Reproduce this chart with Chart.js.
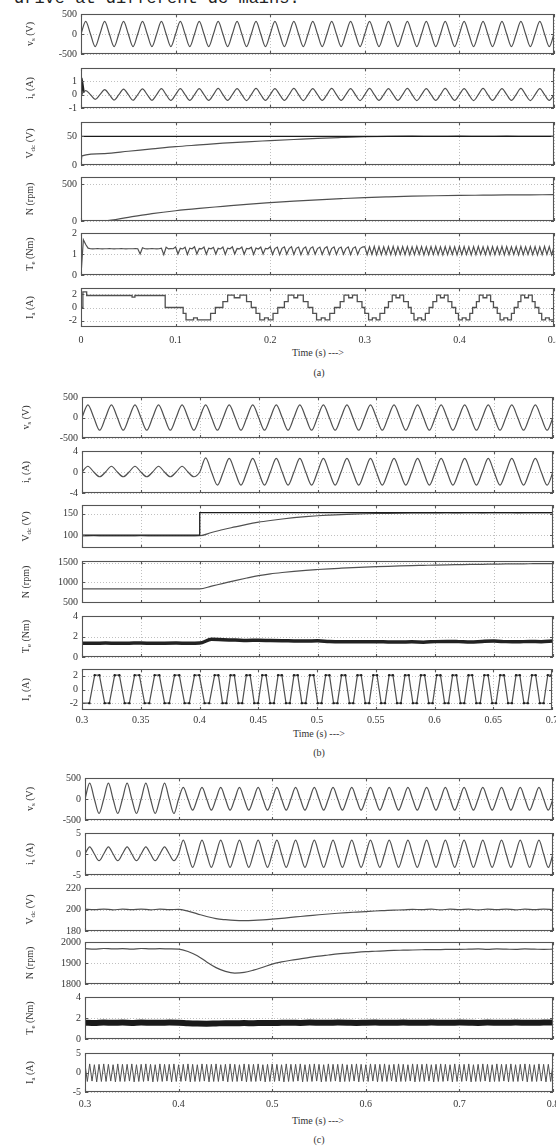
<!DOCTYPE html>
<html>
<head>
<meta charset="utf-8">
<script src="https://cdn.jsdelivr.net/npm/chart.js@4.4.1/dist/chart.umd.min.js"></script>
<style>
  body { margin: 0; background: #fff; }
  #page { position: relative; width: 556px; height: 1146px; overflow: hidden; font-family: "Liberation Serif", serif; color: #333; }
  #page canvas { position: absolute; left: 0; }
  .note { position: absolute; white-space: nowrap; }
  .mid { font-size: 10px; transform: translateX(-50%); }
</style>
</head>
<body>
<div id="page">
  <div class="note" style="left:14px; top:-10px; font-family:'Liberation Mono', monospace; font-size:17px; line-height:17px; color:#222;">drive at different dc mains.</div>
  <div class="note mid" style="left:318px; top:347px;">Time (s) ---&gt;</div>
  <div class="note mid" style="left:319px; top:367px;">(a)</div>
  <div class="note mid" style="left:319px; top:728px;">Time (s) ---&gt;</div>
  <div class="note mid" style="left:319px; top:747px;">(b)</div>
  <div class="note mid" style="left:318px; top:1115px;">Time (s) ---&gt;</div>
  <div class="note mid" style="left:319px; top:1134px;">(c)</div>
</div>
<script>
// sinusoidal traces are sampled every quarter period (50 Hz supply)
const waveStep = 0.005;

// ---------- (a) starting from rest ----------
const aXTicks = [0, 0.1, 0.2, 0.3, 0.4, 0.5];
const aVs = [
  0, 315, 0, -315, 0, 315, 0, -315, 0, 315, 0, -315, 0, 315, 0, -315, 0, 315, 0, -315,
  0, 315, 0, -315, 0, 315, 0, -315, 0, 315, 0, -315, 0, 315, 0, -315, 0, 315, 0, -315,
  0, 315, 0, -315, 0, 315, 0, -315, 0, 315, 0, -315, 0, 315, 0, -315, 0, 315, 0, -315,
  0, 315, 0, -315, 0, 315, 0, -315, 0, 315, 0, -315, 0, 315, 0, -315, 0, 315, 0, -315,
  0, 315, 0, -315, 0, 315, 0, -315, 0, 315, 0, -315, 0, 315, 0, -315, 0, 315, 0, -315,
  0
];
const aIs = [
  0, 0.3, 0, -0.36, 0, 0.38, 0, -0.4, 0, 0.42, 0, -0.42, 0, 0.44, 0, -0.42, 0, 0.45, 0, -0.43,
  0, 0.46, 0, -0.43, 0, 0.46, 0, -0.43, 0, 0.47, 0, -0.43, 0, 0.46, 0, -0.44, 0, 0.47, 0, -0.43,
  0, 0.46, 0, -0.43, 0, 0.47, 0, -0.44, 0, 0.46, 0, -0.43, 0, 0.47, 0, -0.43, 0, 0.46, 0, -0.44,
  0, 0.47, 0, -0.43, 0, 0.46, 0, -0.43, 0, 0.47, 0, -0.44, 0, 0.46, 0, -0.43, 0, 0.47, 0, -0.43,
  0, 0.46, 0, -0.44, 0, 0.47, 0, -0.43, 0, 0.46, 0, -0.43, 0, 0.47, 0, -0.44, 0, 0.46, 0, -0.43,
  0
];
const aIsKickTimes = [0, 0.0005, 0.0015, 0.003];
const aIsKick = [0, 1.25, 0.9, 0.15];
const aVdcTimes = [0, 0.001, 0.025, 0.05, 0.075, 0.1, 0.125, 0.15, 0.175, 0.2, 0.225,
  0.25, 0.275, 0.3, 0.325, 0.35, 0.375, 0.4, 0.425, 0.45, 0.475, 0.5];
const aVdc = [0, 16, 20, 24, 28, 32, 35, 38, 40.5, 42.5, 44.5,
  46.5, 48, 49.3, 50, 50.2, 50, 50.3, 50, 50.2, 50, 50.1];
const aVdcRefTimes = [0, 0.5];
const aVdcRef = [50, 50];
const aSpeedStep = 0.025;
const aSpeed = [0, 2, 50, 100, 140, 172, 200, 228, 250, 270, 288, 305, 320, 330, 338, 344, 349, 352, 355, 357, 359];
const aTorqueStep = 0.0025;
const aTorque = [
  0, 1.68, 1.45, 1.28,
  1.25, 1.24, 1.25, 1.26, 1.25, 1.24, 1.25, 1.25, 1.26, 1.25, 1.24, 1.25, 1.25, 1.26, 1.25, 1.24, 1.25, 1.25, 1.25, 1.26,
  1.25, 1.0, 1.3, 1.25, 1.24, 1.25, 1.26, 1.25, 1.24, 1.25, 1.28, 0.97, 1.32, 1.24, 1.26, 1.25,
  1.33, 1.0, 1.27, 1.24, 1.32, 0.98, 1.28, 1.25, 1.34, 1.0, 1.26, 1.24, 1.33, 0.99, 1.28, 1.25, 1.32, 1.0, 1.27, 1.24,
  1.33, 0.98, 1.28, 1.25, 1.34, 1.0, 1.26, 1.24, 1.33, 0.99, 1.27, 1.25, 1.32, 0.98, 1.28, 1.24, 1.33, 1.0, 1.27, 1.25,
  1.34, 0.98, 1.26, 1.33, 0.97, 1.27, 1.34, 0.99, 1.26, 1.35, 0.98, 1.27, 1.33, 0.97, 1.26, 1.34, 0.98, 1.27, 1.34, 0.99,
  1.26, 1.33, 0.98, 1.27, 1.35, 0.97, 1.26, 1.34, 0.98, 1.27, 1.33, 0.99, 1.26, 1.34, 0.97, 1.27, 1.34, 0.98, 1.26, 1.33,
  1.35, 0.97, 1.34, 0.98, 1.36, 0.96, 1.35, 0.97, 1.34, 0.98, 1.35, 0.97, 1.36, 0.96, 1.34, 0.98, 1.35, 0.97, 1.35, 0.96,
  1.34, 0.97, 1.36, 0.98, 1.35, 0.96, 1.34, 0.97, 1.35, 0.98, 1.36, 0.97, 1.34, 0.96, 1.35, 0.97, 1.35, 0.98, 1.34, 0.96,
  1.36, 0.97, 1.35, 0.98, 1.34, 0.96, 1.35, 0.97, 1.36, 0.98, 1.34, 0.97, 1.35, 0.96, 1.35, 0.97, 1.34, 0.98, 1.36, 0.96,
  1.35, 0.97, 1.34, 0.98, 1.35, 0.96, 1.36, 0.97, 1.34, 0.98, 1.35, 0.97, 1.35, 0.96, 1.34, 0.97, 1.36, 0.98, 1.35, 0.96,
  1.35
];
// stator current: level held until the next switching instant
const aIaTimes = [
  0, 0.002, 0.006, 0.054, 0.057, 0.089, 0.108, 0.111, 0.119, 0.123, 0.137, 0.142,
  0.150, 0.155, 0.162, 0.168, 0.175, 0.180,
  0.185, 0.189, 0.194, 0.198, 0.203, 0.208,
  0.215, 0.219, 0.225, 0.229, 0.235, 0.240,
  0.245, 0.249, 0.254, 0.258, 0.263, 0.268,
  0.274, 0.278, 0.283, 0.287, 0.292, 0.297,
  0.300, 0.304, 0.308, 0.312, 0.316, 0.321,
  0.325, 0.329, 0.333, 0.337, 0.341, 0.346,
  0.349, 0.352, 0.356, 0.360, 0.364, 0.368,
  0.372, 0.376, 0.380, 0.384, 0.388, 0.392,
  0.396, 0.399, 0.403, 0.407, 0.411, 0.414,
  0.418, 0.421, 0.425, 0.429, 0.433, 0.436,
  0.440, 0.443, 0.447, 0.451, 0.455, 0.458,
  0.462, 0.465, 0.469, 0.473, 0.477, 0.480,
  0.484, 0.487, 0.491, 0.495, 0.5
];
const aIaLevels = [
  0, 2.4, 1.85, 1.6, 1.85, 0, -0.9, -1.9, -1.6, -1.9, -0.9, 0,
  0.9, 1.9, 1.5, 1.9, 0.9, 0,
  -0.9, -1.9, -1.6, -1.9, -0.9, 0,
  0.9, 1.9, 1.5, 1.9, 0.9, 0,
  -0.9, -1.9, -1.6, -1.9, -0.9, 0,
  0.9, 1.9, 1.5, 1.9, 0.9, 0,
  -0.9, -1.9, -1.6, -1.9, -0.9, 0,
  0.9, 1.9, 1.5, 1.9, 0.9, 0,
  -0.9, -1.9, -1.6, -1.9, -0.9, 0,
  0.9, 1.9, 1.5, 1.9, 0.9, 0,
  -0.9, -1.9, -1.6, -1.9, -0.9, 0,
  0.9, 1.9, 1.5, 1.9, 0.9, 0,
  -0.9, -1.9, -1.6, -1.9, -0.9, 0,
  0.9, 1.9, 1.5, 1.9, 0.9, 0,
  -0.9, -1.9, -1.6, -1.9, -1.9
];

// ---------- (b) step in dc-link voltage reference ----------
const bXTicks = [0.3, 0.35, 0.4, 0.45, 0.5, 0.55, 0.6, 0.65, 0.7];
const bVs = [
  0, 310, 0, -310, 0, 310, 0, -310, 0, 310, 0, -310, 0, 310, 0, -310, 0, 310, 0, -310,
  0, 310, 0, -310, 0, 310, 0, -310, 0, 310, 0, -310, 0, 310, 0, -310, 0, 310, 0, -310,
  0, 310, 0, -310, 0, 310, 0, -310, 0, 310, 0, -310, 0, 310, 0, -310, 0, 310, 0, -310,
  0, 310, 0, -310, 0, 310, 0, -310, 0, 310, 0, -310, 0, 310, 0, -310, 0, 310, 0, -310,
  0
];
const bIs = [
  0, 1.1, 0, -0.9, 0, 1.1, 0, -0.9, 0, 1.1, 0, -0.9, 0, 1.1, 0, -0.9, 0, 1.1, 0, -0.9,
  0, 2.7, 0, -2.5, 0, 2.6, 0, -2.5, 0, 2.6, 0, -2.5, 0, 2.6, 0, -2.5, 0, 2.6, 0, -2.5,
  0, 2.6, 0, -2.5, 0, 2.6, 0, -2.5, 0, 2.6, 0, -2.5, 0, 2.6, 0, -2.5, 0, 2.6, 0, -2.5,
  0, 2.6, 0, -2.5, 0, 2.6, 0, -2.5, 0, 2.6, 0, -2.5, 0, 2.6, 0, -2.5, 0, 2.6, 0, -2.5,
  0
];
const slowStep = 0.01;
const bVdc = [
  98, 98.5, 98, 98.3, 98, 98.5, 98.2, 98, 98.4, 98.1, 98.5,
  106, 113, 119, 125, 130, 134, 137.5, 140.5, 143, 145,
  146.5, 147.8, 148.8, 149.6, 150.2, 150.7, 151.1, 151.4, 151.6, 151.8,
  152, 151.8, 152.1, 151.9, 152, 152.1, 151.9, 152, 152.1, 152
];
const bVdcRefTimes = [0.3, 0.4, 0.4, 0.7];
const bVdcRef = [100, 100, 152.5, 152.5];
const bSpeed = [
  835, 836, 834, 835, 836, 835, 834, 835, 836, 835, 835,
  905, 975, 1045, 1110, 1170, 1215, 1250, 1280, 1305, 1325,
  1343, 1358, 1372, 1385, 1396, 1406, 1415, 1423, 1430, 1437,
  1443, 1448, 1453, 1457, 1461, 1465, 1468, 1471, 1474, 1476
];
const bTorque = [
  1.35, 1.33, 1.36, 1.34, 1.35, 1.37, 1.33, 1.35, 1.36, 1.34, 1.36,
  1.72, 1.68, 1.66, 1.62, 1.63, 1.6, 1.58, 1.57, 1.55, 1.58,
  1.52, 1.5, 1.5, 1.48, 1.5, 1.47, 1.46, 1.48, 1.45, 1.5,
  1.52, 1.5, 1.47, 1.52, 1.55, 1.5, 1.48, 1.52, 1.5, 1.55
];
// trapezoidal phase current: plateau corners
const bIaTimes = [
  0.3, 0.3063,
  0.3108, 0.3148, 0.3193, 0.3233, 0.3278, 0.3318, 0.3363, 0.3403,
  0.3448, 0.3488, 0.3533, 0.3573, 0.3618, 0.3658, 0.3703, 0.3743,
  0.3788, 0.3828, 0.3873, 0.3913, 0.3958, 0.3998, 0.4043, 0.4083,
  0.4129, 0.4161, 0.4196, 0.4229, 0.4264, 0.4296, 0.4331, 0.4364,
  0.4399, 0.4431, 0.4466, 0.4499, 0.4534, 0.4566, 0.4601, 0.4634,
  0.4669, 0.4701, 0.4736, 0.4769, 0.4804, 0.4836, 0.4871, 0.4904,
  0.4939, 0.4971, 0.5006, 0.5039, 0.5074, 0.5106, 0.5141, 0.5174,
  0.5209, 0.5241, 0.5276, 0.5309, 0.5344, 0.5376, 0.5411, 0.5444,
  0.5479, 0.5511, 0.5546, 0.5579, 0.5614, 0.5646, 0.5681, 0.5714,
  0.5749, 0.5781, 0.5816, 0.5849, 0.5884, 0.5916, 0.5951, 0.5984,
  0.6019, 0.6051, 0.6086, 0.6119, 0.6154, 0.6186, 0.6221, 0.6254,
  0.6289, 0.6321, 0.6356, 0.6389, 0.6424, 0.6456, 0.6491, 0.6524,
  0.6559, 0.6591, 0.6626, 0.6659, 0.6694, 0.6726, 0.6761, 0.6794,
  0.6829, 0.6861, 0.6896, 0.6929, 0.6964, 0.6996, 0.7031, 0.7064
];
const bIa = [
  -2.0, -2.0,
  2.1, 2.1, -2.0, -2.0, 2.1, 2.1, -2.0, -2.0,
  2.1, 2.1, -2.0, -2.0, 2.1, 2.1, -2.0, -2.0,
  2.1, 2.1, -2.0, -2.0, 2.1, 2.1, -2.0, -2.0,
  2.1, 2.1, -2.0, -2.0, 2.1, 2.1, -2.0, -2.0,
  2.1, 2.1, -2.0, -2.0, 2.1, 2.1, -2.0, -2.0,
  2.1, 2.1, -2.0, -2.0, 2.1, 2.1, -2.0, -2.0,
  2.1, 2.1, -2.0, -2.0, 2.1, 2.1, -2.0, -2.0,
  2.1, 2.1, -2.0, -2.0, 2.1, 2.1, -2.0, -2.0,
  2.1, 2.1, -2.0, -2.0, 2.1, 2.1, -2.0, -2.0,
  2.1, 2.1, -2.0, -2.0, 2.1, 2.1, -2.0, -2.0,
  2.1, 2.1, -2.0, -2.0, 2.1, 2.1, -2.0, -2.0,
  2.1, 2.1, -2.0, -2.0, 2.1, 2.1, -2.0, -2.0,
  2.1, 2.1, -2.0, -2.0, 2.1, 2.1, -2.0, -2.0,
  2.1, 2.1, -2.0, -2.0, 2.1, 2.1, -2.0, -2.0
];

// ---------- (c) step in supply voltage ----------
const cXTicks = [0.3, 0.4, 0.5, 0.6, 0.7, 0.8];
const cVs = [
  0, 380, 0, -345, 0, 380, 0, -345, 0, 380, 0, -345, 0, 380, 0, -345, 0, 380, 0, -345,
  0, 275, 0, -265, 0, 275, 0, -265, 0, 275, 0, -265, 0, 275, 0, -265, 0, 275, 0, -265,
  0, 275, 0, -265, 0, 275, 0, -265, 0, 275, 0, -265, 0, 275, 0, -265, 0, 275, 0, -265,
  0, 275, 0, -265, 0, 275, 0, -265, 0, 275, 0, -265, 0, 275, 0, -265, 0, 275, 0, -265,
  0, 275, 0, -265, 0, 275, 0, -265, 0, 275, 0, -265, 0, 275, 0, -265, 0, 275, 0, -265,
  0
];
const cIs = [
  0, 1.7, 0, -1.6, 0, 1.7, 0, -1.6, 0, 1.7, 0, -1.6, 0, 1.7, 0, -1.6, 0, 1.7, 0, -1.6,
  0, 3.3, 0, -3.2, 0, 3.3, 0, -3.2, 0, 3.3, 0, -3.2, 0, 3.3, 0, -3.2, 0, 3.3, 0, -3.2,
  0, 3.3, 0, -3.2, 0, 3.3, 0, -3.2, 0, 3.3, 0, -3.2, 0, 3.3, 0, -3.2, 0, 3.3, 0, -3.2,
  0, 3.3, 0, -3.2, 0, 3.3, 0, -3.2, 0, 3.3, 0, -3.2, 0, 3.3, 0, -3.2, 0, 3.3, 0, -3.2,
  0, 3.3, 0, -3.2, 0, 3.3, 0, -3.2, 0, 3.3, 0, -3.2, 0, 3.3, 0, -3.2, 0, 3.3, 0, -3.2,
  0
];
const cVdc = [
  200.3, 199.8, 200.4, 199.7, 200.3, 199.8, 200.4, 199.7, 200.3, 199.8, 200.2,
  198.5, 196, 193.5, 191.5, 190.5, 189.8, 189.6, 189.8, 190.3, 191,
  191.8, 192.6, 193.5, 194.3, 195.1, 195.8, 196.5, 197.1, 197.6, 198.1,
  198.6, 199, 199.4, 199.7, 200.2, 199.8, 200.3, 199.7, 200.3, 199.8,
  200.3, 199.7, 200.3, 199.8, 200.4, 199.7, 200.3, 199.8, 200.3, 199.9
];
const cSpeed = [
  1968, 1966, 1969, 1967, 1968, 1966, 1969, 1967, 1968, 1967, 1966,
  1955, 1935, 1905, 1878, 1860, 1852, 1855, 1866, 1880, 1895,
  1905, 1913, 1920, 1927, 1933, 1938, 1943, 1947, 1951, 1954,
  1956, 1958, 1960, 1961, 1962, 1963, 1964, 1964, 1965, 1965,
  1966, 1967, 1965, 1967, 1966, 1965, 1967, 1966, 1965, 1966
];
const cTorque = [
  1.55, 1.52, 1.57, 1.54, 1.56, 1.53, 1.57, 1.55, 1.54, 1.56, 1.55,
  1.5, 1.47, 1.46, 1.48, 1.5, 1.49, 1.52, 1.5, 1.53, 1.52,
  1.54, 1.55, 1.53, 1.56, 1.55, 1.54, 1.56, 1.55, 1.53, 1.55,
  1.56, 1.54, 1.55, 1.57, 1.55, 1.54, 1.56, 1.55, 1.54, 1.56,
  1.55, 1.53, 1.56, 1.55, 1.54, 1.56, 1.55, 1.54, 1.56, 1.57
];
const cIaStep = 0.0025;
const cIa = [
  2.1, -2.3, 2.2, -2.2, 2.0, -2.4, 2.1, -2.3, 2.2, -2.3, 2.1, -2.2, 2.0, -2.4, 2.2, -2.3, 2.1, -2.3, 2.1, -2.2,
  2.2, -2.4, 2.0, -2.3, 2.1, -2.3, 2.2, -2.2, 2.1, -2.4, 2.0, -2.3, 2.2, -2.3, 2.1, -2.2, 2.1, -2.4, 2.2, -2.3,
  2.0, -2.3, 2.1, -2.2, 2.2, -2.4, 2.1, -2.3, 2.0, -2.3, 2.2, -2.2, 2.1, -2.4, 2.1, -2.3, 2.2, -2.3, 2.0, -2.2,
  2.1, -2.4, 2.2, -2.3, 2.1, -2.3, 2.0, -2.2, 2.2, -2.4, 2.1, -2.3, 2.1, -2.3, 2.2, -2.2, 2.0, -2.4, 2.1, -2.3,
  2.2, -2.3, 2.1, -2.2, 2.0, -2.4, 2.2, -2.3, 2.1, -2.3, 2.1, -2.2, 2.2, -2.4, 2.0, -2.3, 2.1, -2.3, 2.2, -2.2,
  2.1, -2.4, 2.0, -2.3, 2.2, -2.3, 2.1, -2.2, 2.1, -2.4, 2.2, -2.3, 2.0, -2.3, 2.1, -2.2, 2.2, -2.4, 2.1, -2.3,
  2.0, -2.3, 2.2, -2.2, 2.1, -2.4, 2.1, -2.3, 2.2, -2.3, 2.0, -2.2, 2.1, -2.4, 2.2, -2.3, 2.1, -2.3, 2.0, -2.2,
  2.2, -2.4, 2.1, -2.3, 2.1, -2.3, 2.2, -2.2, 2.0, -2.4, 2.1, -2.3, 2.2, -2.3, 2.1, -2.2, 2.0, -2.4, 2.2, -2.3,
  2.1, -2.3, 2.1, -2.2, 2.2, -2.4, 2.0, -2.3, 2.1, -2.3, 2.2, -2.2, 2.1, -2.4, 2.0, -2.3, 2.2, -2.3, 2.1, -2.2,
  2.1, -2.4, 2.2, -2.3, 2.0, -2.3, 2.1, -2.2, 2.2, -2.4, 2.1, -2.3, 2.0, -2.3, 2.2, -2.2, 2.1, -2.4, 2.1, -2.3,
  2.2
];

// ---------- helpers ----------
function sampled(start, step, values) {
  return values.map((v, i) => ({ x: +(start + i * step).toFixed(5), y: v }));
}
function paired(times, values) {
  return times.map((t, i) => ({ x: t, y: values[i] }));
}
function trace(data, extra) {
  return Object.assign({
    data: data, borderColor: '#505050', borderWidth: 1.2, pointRadius: 0,
    cubicInterpolationMode: 'monotone', fill: false
  }, extra || {});
}

const FONT = '"Liberation Serif", serif';

// frame, MATLAB-style inner ticks, dotted grid and subscripted axis title
const framePlugin = {
  id: 'frame',
  beforeDatasetsDraw(chart) {
    const { ctx, chartArea: a, scales } = chart;
    ctx.save();
    ctx.strokeStyle = '#b0b0b0';
    ctx.lineWidth = 0.8;
    ctx.setLineDash([1, 2]);
    ctx.beginPath();
    scales.x.ticks.forEach(t => {
      const px = Math.round(scales.x.getPixelForValue(t.value)) + 0.5;
      ctx.moveTo(px, a.top); ctx.lineTo(px, a.bottom);
    });
    scales.y.ticks.forEach(t => {
      const py = Math.round(scales.y.getPixelForValue(t.value)) + 0.5;
      ctx.moveTo(a.left, py); ctx.lineTo(a.right, py);
    });
    ctx.stroke();
    ctx.restore();
  },
  afterDraw(chart, args, opts) {
    const { ctx, chartArea: a, scales } = chart;
    ctx.save();
    ctx.strokeStyle = '#555';
    ctx.lineWidth = 1.1;
    ctx.strokeRect(a.left + 0.5, a.top + 0.5, a.right - a.left - 1, a.bottom - a.top - 1);
    ctx.beginPath();
    scales.x.ticks.forEach(t => {
      const px = Math.round(scales.x.getPixelForValue(t.value)) + 0.5;
      ctx.moveTo(px, a.top); ctx.lineTo(px, a.top + 3);
      ctx.moveTo(px, a.bottom); ctx.lineTo(px, a.bottom - 3);
    });
    scales.y.ticks.forEach(t => {
      const py = Math.round(scales.y.getPixelForValue(t.value)) + 0.5;
      ctx.moveTo(a.left, py); ctx.lineTo(a.left + 3, py);
      ctx.moveTo(a.right, py); ctx.lineTo(a.right - 3, py);
    });
    ctx.stroke();

    const [main, sub, unit] = opts.label;
    ctx.translate(opts.titleX, (a.top + a.bottom) / 2);
    ctx.rotate(-Math.PI / 2);
    ctx.fillStyle = '#333';
    ctx.textBaseline = 'middle';
    ctx.font = '10px ' + FONT;
    const w1 = ctx.measureText(main).width;
    const w3 = ctx.measureText(unit).width;
    ctx.font = '7px ' + FONT;
    const w2 = sub ? ctx.measureText(sub).width : 0;
    let x = -(w1 + w2 + w3) / 2;
    ctx.font = '10px ' + FONT;
    ctx.fillText(main, x, 0);
    x += w1;
    if (sub) {
      ctx.font = '7px ' + FONT;
      ctx.fillText(sub, x, 3);
      x += w2;
    }
    ctx.font = '10px ' + FONT;
    ctx.fillText(unit, x, 0);
    ctx.restore();
  }
};

const page = document.getElementById('page');

function panel(p) {
  const bottomExtra = p.showX ? 24 : 8;
  const h = p.bottom - p.top + 8 + bottomExtra;
  const canvas = document.createElement('canvas');
  canvas.width = 556;
  canvas.height = h;
  canvas.style.top = (p.top - 8) + 'px';
  page.appendChild(canvas);

  new Chart(canvas.getContext('2d'), {
    type: 'line',
    data: { datasets: p.datasets },
    options: {
      responsive: false,
      animation: false,
      devicePixelRatio: 1,
      events: [],
      layout: { padding: { top: 8, left: 0, right: 556 - p.right, bottom: p.showX ? 0 : 8 } },
      plugins: {
        legend: { display: false },
        tooltip: { enabled: false },
        frame: { label: p.label, titleX: p.titleX }
      },
      scales: {
        x: {
          type: 'linear',
          min: p.xTicks[0],
          max: p.xTicks[p.xTicks.length - 1],
          grid: { display: false, drawTicks: false },
          border: { display: false },
          ticks: {
            display: !!p.showX,
            padding: p.xPad || 6,
            maxRotation: 0,
            autoSkip: false,
            color: '#333',
            font: { family: FONT, size: 10 },
            callback: v => String(Math.round(v * 100) / 100)
          },
          afterBuildTicks: s => { s.ticks = p.xTicks.map(v => ({ value: v })); },
          afterFit: s => {
            s.height = p.showX ? 24 : 0;
            s.paddingLeft = 0; s.paddingRight = 0;
          }
        },
        y: {
          min: p.yMin,
          max: p.yMax,
          grid: { display: false, drawTicks: false },
          border: { display: false },
          ticks: {
            padding: 4,
            color: '#333',
            font: { family: FONT, size: 10 },
            callback: v => String(v)
          },
          afterBuildTicks: s => { s.ticks = p.yTicks.map(v => ({ value: v })); },
          afterFit: s => {
            s.width = p.left;
            s.paddingTop = 0; s.paddingBottom = 0;
          }
        }
      }
    },
    plugins: [framePlugin]
  });
}

// ---------- (a) ----------
const aBox = { left: 81, right: 554, xTicks: aXTicks, titleX: 30, xPad: 7 };
panel(Object.assign({}, aBox, { top: 14, bottom: 54, yMin: -500, yMax: 500, yTicks: [-500, 0, 500],
  label: ['v', 's', ' (V)'], datasets: [trace(sampled(0, waveStep, aVs))] }));
panel(Object.assign({}, aBox, { top: 68, bottom: 108, yMin: -1, yMax: 2, yTicks: [-1, 0, 1],
  label: ['i', 's', ' (A)'], datasets: [trace(sampled(0, waveStep, aIs)),
    trace(paired(aIsKickTimes, aIsKick), { cubicInterpolationMode: 'default', borderColor: '#222', borderWidth: 2 })] }));
panel(Object.assign({}, aBox, { top: 122, bottom: 165, yMin: 0, yMax: 75, yTicks: [0, 50],
  label: ['V', 'dc', ' (V)'], datasets: [trace(paired(aVdcRefTimes, aVdcRef), { borderColor: '#1a1a1a', borderWidth: 1.3 }),
    trace(paired(aVdcTimes, aVdc))] }));
panel(Object.assign({}, aBox, { top: 177, bottom: 221, yMin: 0, yMax: 600, yTicks: [0, 500],
  label: ['N (rpm)', '', ''], datasets: [trace(sampled(0, aSpeedStep, aSpeed))] }));
panel(Object.assign({}, aBox, { top: 233, bottom: 275, yMin: 0, yMax: 2, yTicks: [0, 1, 2],
  label: ['T', 'e', ' (Nm)'], datasets: [trace(sampled(0, aTorqueStep, aTorque), { cubicInterpolationMode: 'default' })] }));
panel(Object.assign({}, aBox, { top: 288, bottom: 327, yMin: -3, yMax: 3, yTicks: [-2, 0, 2], showX: true,
  label: ['I', 'a', ' (A)'], datasets: [trace(paired(aIaTimes, aIaLevels), { stepped: true, borderWidth: 1.3 })] }));

// ---------- (b) ----------
const bBox = { left: 82, right: 553, xTicks: bXTicks, titleX: 26, xPad: 4 };
panel(Object.assign({}, bBox, { top: 397, bottom: 438, yMin: -500, yMax: 500, yTicks: [-500, 0, 500],
  label: ['v', 's', ' (V)'], datasets: [trace(sampled(0.3, waveStep, bVs))] }));
panel(Object.assign({}, bBox, { top: 451, bottom: 493, yMin: -4, yMax: 4, yTicks: [-4, -2, 0, 2, 4],
  label: ['i', 's', ' (A)'], datasets: [trace(sampled(0.3, waveStep, bIs))] }));
panel(Object.assign({}, bBox, { top: 505, bottom: 548, yMin: 70, yMax: 170, yTicks: [100, 150],
  label: ['V', 'dc', ' (V)'], datasets: [trace(paired(bVdcRefTimes, bVdcRef), { cubicInterpolationMode: 'default', borderColor: '#1a1a1a', borderWidth: 1.3 }),
    trace(sampled(0.3, slowStep, bVdc))] }));
panel(Object.assign({}, bBox, { top: 561, bottom: 603, yMin: 480, yMax: 1540, yTicks: [500, 1000, 1500],
  label: ['N (rpm)', '', ''], datasets: [trace(sampled(0.3, slowStep, bSpeed))] }));
panel(Object.assign({}, bBox, { top: 616, bottom: 657, yMin: 0, yMax: 4, yTicks: [0, 2, 4],
  label: ['T', 'e', ' (Nm)'], datasets: [trace(sampled(0.3, slowStep, bTorque), { borderColor: '#222', borderWidth: 3.5 })] }));
panel(Object.assign({}, bBox, { top: 669, bottom: 710, yMin: -3, yMax: 3, yTicks: [-2, 0, 2], showX: true,
  label: ['I', 'a', ' (A)'], datasets: [trace(paired(bIaTimes, bIa), { cubicInterpolationMode: 'default', pointRadius: 1.2, pointBackgroundColor: '#222', pointBorderWidth: 0 })] }));

// ---------- (c) ----------
const cBox = { left: 85, right: 553, xTicks: cXTicks, titleX: 30, xPad: 6 };
panel(Object.assign({}, cBox, { top: 778, bottom: 820, yMin: -500, yMax: 500, yTicks: [-500, 0, 500],
  label: ['v', 's', ' (V)'], datasets: [trace(sampled(0.3, waveStep, cVs))] }));
panel(Object.assign({}, cBox, { top: 833, bottom: 875, yMin: -5, yMax: 5, yTicks: [-5, 0, 5],
  label: ['i', 's', ' (A)'], datasets: [trace(sampled(0.3, waveStep, cIs))] }));
panel(Object.assign({}, cBox, { top: 888, bottom: 931, yMin: 180, yMax: 220, yTicks: [180, 200, 220],
  label: ['V', 'dc', ' (V)'], datasets: [trace(sampled(0.3, slowStep, cVdc))] }));
panel(Object.assign({}, cBox, { top: 942, bottom: 984, yMin: 1800, yMax: 2000, yTicks: [1800, 1900, 2000],
  label: ['N (rpm)', '', ''], datasets: [trace(sampled(0.3, slowStep, cSpeed))] }));
panel(Object.assign({}, cBox, { top: 997, bottom: 1039, yMin: 0, yMax: 4, yTicks: [0, 2, 4],
  label: ['T', 'e', ' (Nm)'], datasets: [trace(sampled(0.3, slowStep, cTorque), { borderColor: '#1a1a1a', borderWidth: 6 })] }));
panel(Object.assign({}, cBox, { top: 1053, bottom: 1092, yMin: -5, yMax: 5, yTicks: [-5, 0, 5], showX: true,
  label: ['I', 'a', ' (A)'], datasets: [trace(sampled(0.3, cIaStep, cIa), { cubicInterpolationMode: 'default', borderWidth: 1 })] }));
</script>
</body>
</html>
